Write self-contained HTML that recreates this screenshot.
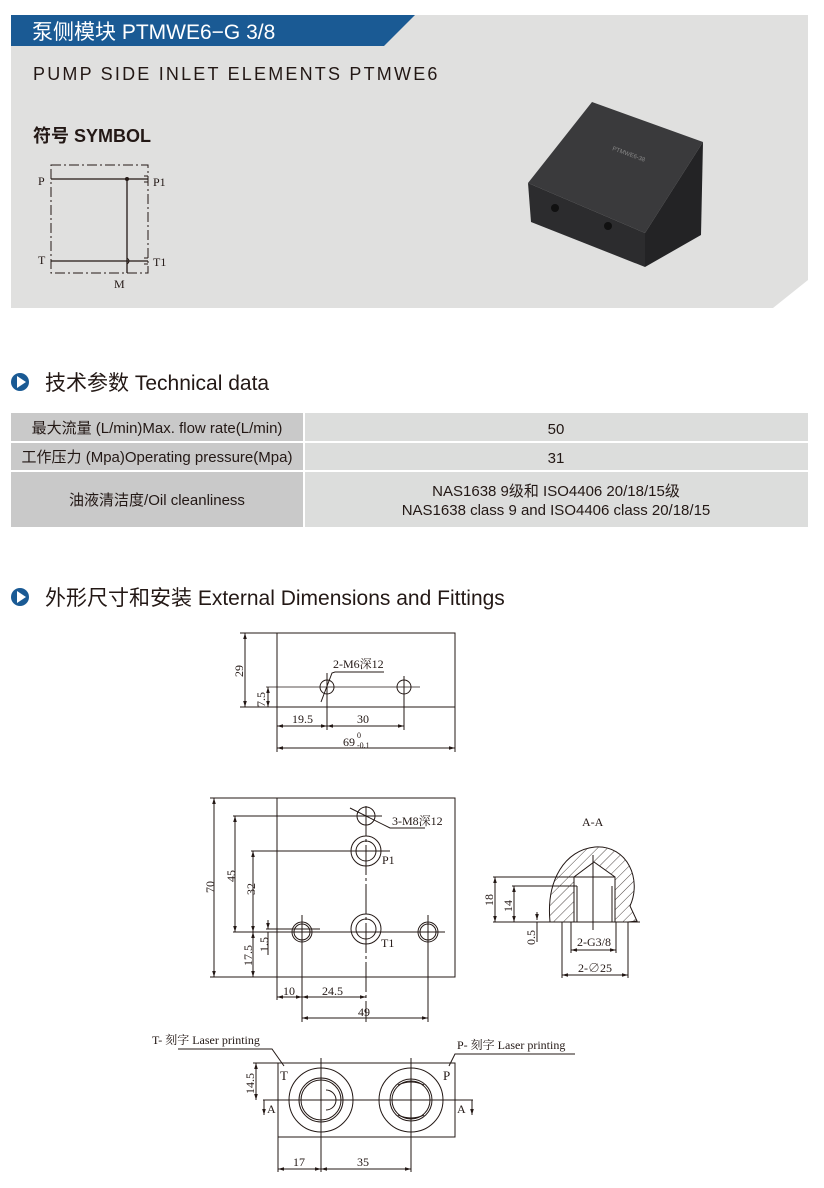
<!DOCTYPE html>
<html><head><meta charset="utf-8"><style>
body{margin:0;background:#fff;}
svg{display:block}
.s{font-family:"Liberation Sans","Noto Sans CJK SC",sans-serif}
.d{font-family:"Liberation Serif","Noto Serif CJK SC",serif;font-size:12px;fill:#231815}
</style></head><body>
<svg width="824" height="1188" viewBox="0 0 824 1188" xmlns="http://www.w3.org/2000/svg">
<defs>
<pattern id="h" width="7" height="7" patternUnits="userSpaceOnUse" patternTransform="rotate(45)"><line x1="0" y1="0" x2="0" y2="7" stroke="#231815" stroke-width="0.8"/></pattern>
<marker id="a" viewBox="0 0 10 10" refX="10" refY="5" markerWidth="6" markerHeight="6" orient="auto-start-reverse"><path d="M0,2 L10,5 L0,8z" fill="#231815"/></marker>
</defs>
<!-- top panel -->
<polygon points="11,15 808,15 808,280 773,308 11,308" fill="#e0e0df"/>
<polygon points="11,15 415,15 384,46 11,46" fill="#1a5a94"/>
<text x="32" y="39" class="s" font-size="21" fill="#fff">泵侧模块 PTMWE6−G 3/8</text>
<text x="33" y="80" class="s" font-size="18" fill="#231815" letter-spacing="2.2">PUMP SIDE INLET ELEMENTS PTMWE6</text>
<text x="33" y="142" class="s" font-size="18" font-weight="bold" fill="#231815">符号 SYMBOL</text>
<!-- symbol -->
<g stroke="#231815" fill="none" stroke-width="1">
<rect x="51" y="165" width="97" height="108" stroke-dasharray="10,3,2,3"/>
<line x1="51" y1="179" x2="148" y2="179" stroke-width="1.3"/>
<line x1="51" y1="261" x2="148" y2="261" stroke-width="1.3"/>
<line x1="127" y1="179" x2="127" y2="273" stroke-width="1.3"/>
<path d="M127,258 q4,3 0,6" />
<line x1="144" y1="176" x2="148" y2="176"/><line x1="144" y1="182" x2="148" y2="182"/>
<line x1="144" y1="258" x2="148" y2="258"/><line x1="144" y1="264" x2="148" y2="264"/>
</g>
<circle cx="127" cy="179" r="2" fill="#231815"/>
<g class="d" font-size="12"><text x="38" y="185">P</text><text x="153" y="186">P1</text><text x="38" y="264">T</text><text x="153" y="266">T1</text><text x="114" y="288">M</text></g>
<!-- photo -->
<polygon points="592,102 703,142 645,233 528,183" fill="#3a3a3c"/>
<polygon points="528,183 645,233 645,267 531,222" fill="#2c2c2e"/>
<polygon points="645,233 703,142 701,235 645,267" fill="#232325"/>
<circle cx="555" cy="208" r="4" fill="#111"/><circle cx="608" cy="226" r="4" fill="#111"/>
<text x="612" y="150" font-size="6" fill="#888" class="s" transform="rotate(20 612 150)">PTMWE6-38</text>
<!-- section 1 -->
<circle cx="20" cy="382" r="9" fill="#1a5a94"/><polygon points="17,376 17,388 26,382" fill="#fff"/>
<text x="45" y="390" class="s" font-size="21" fill="#231815">技术参数 Technical data</text>
<rect x="11" y="413" width="292" height="28" fill="#c9c9c9"/><rect x="305" y="413" width="503" height="28" fill="#dcdddc"/>
<rect x="11" y="443" width="292" height="27" fill="#c9c9c9"/><rect x="305" y="443" width="503" height="27" fill="#dcdddc"/>
<rect x="11" y="472" width="292" height="55" fill="#c9c9c9"/><rect x="305" y="472" width="503" height="55" fill="#dcdddc"/>
<g class="s" font-size="15" fill="#231815" text-anchor="middle">
<text x="157" y="433">最大流量 (L/min)Max. flow rate(L/min)</text>
<text x="157" y="462">工作压力 (Mpa)Operating pressure(Mpa)</text>
<text x="157" y="505">油液清洁度/Oil cleanliness</text>
<text x="556" y="434">50</text><text x="556" y="463">31</text>
<text x="556" y="496">NAS1638 9级和 ISO4406 20/18/15级</text>
<text x="556" y="515">NAS1638 class 9 and ISO4406 class 20/18/15</text>
</g>
<circle cx="20" cy="597" r="9" fill="#1a5a94"/><polygon points="17,591 17,603 26,597" fill="#fff"/>
<text x="45" y="605" class="s" font-size="21" fill="#231815">外形尺寸和安装 External Dimensions and Fittings</text>
<!-- drawing 1 -->
<g stroke="#231815" fill="none" stroke-width="1">
<rect x="277" y="633" width="178" height="74"/>
<line x1="240" y1="633" x2="277" y2="633"/><line x1="240" y1="707" x2="277" y2="707"/>
<line x1="245" y1="633" x2="245" y2="707" marker-start="url(#a)" marker-end="url(#a)"/>
<line x1="266" y1="687" x2="420" y2="687" stroke-width="0.7"/>
<line x1="268" y1="687" x2="268" y2="707" marker-start="url(#a)" marker-end="url(#a)"/>
<circle cx="327" cy="687" r="7"/><circle cx="404" cy="687" r="7"/>
<line x1="327" y1="673" x2="327" y2="730"/><line x1="404" y1="676" x2="404" y2="730"/>
<polyline points="321,702 332,673 335,672 384,672"/>
<line x1="277" y1="707" x2="277" y2="752"/><line x1="455" y1="707" x2="455" y2="752"/>
<line x1="277" y1="726" x2="327" y2="726" marker-start="url(#a)" marker-end="url(#a)"/>
<line x1="327" y1="726" x2="404" y2="726" marker-start="url(#a)" marker-end="url(#a)"/>
<line x1="277" y1="748" x2="455" y2="748" marker-start="url(#a)" marker-end="url(#a)"/>
</g>
<g class="d"><text x="243" y="677" transform="rotate(-90 243 677)">29</text><text x="265" y="707" transform="rotate(-90 265 707)">7.5</text>
<text x="333" y="668">2-M6深12</text><text x="292" y="723">19.5</text><text x="357" y="723">30</text>
<text x="343" y="746">69</text><text x="357" y="738" font-size="8">0</text><text x="357" y="748" font-size="8">-0.1</text></g>
<!-- drawing 2 -->
<g stroke="#231815" fill="none" stroke-width="1">
<rect x="277" y="798" width="178" height="179"/>
<line x1="366" y1="806" x2="366" y2="1022" stroke-dasharray="30,3,3,3"/>
<circle cx="366" cy="816" r="9"/>
<circle cx="366" cy="851" r="15"/><circle cx="366" cy="851" r="10"/>
<circle cx="366" cy="929" r="15"/><circle cx="366" cy="929" r="10"/>
<circle cx="302" cy="932" r="10"/><circle cx="302" cy="932" r="8"/>
<circle cx="428" cy="932" r="10"/><circle cx="428" cy="932" r="8"/>
<line x1="210" y1="798" x2="277" y2="798"/><line x1="210" y1="977" x2="277" y2="977"/>
<line x1="214" y1="798" x2="214" y2="977" marker-start="url(#a)" marker-end="url(#a)"/>
<line x1="233" y1="816" x2="382" y2="816"/><line x1="251" y1="851" x2="390" y2="851"/>
<line x1="233" y1="932" x2="445" y2="932"/><line x1="266" y1="929" x2="320" y2="929"/>
<line x1="235" y1="816" x2="235" y2="932" marker-start="url(#a)" marker-end="url(#a)"/>
<line x1="253" y1="851" x2="253" y2="932" marker-start="url(#a)" marker-end="url(#a)"/>
<line x1="253" y1="932" x2="253" y2="977" marker-start="url(#a)" marker-end="url(#a)"/>
<line x1="268" y1="920" x2="268" y2="929" marker-end="url(#a)"/><line x1="268" y1="932" x2="268" y2="955"/>
<line x1="277" y1="977" x2="277" y2="1000"/>
<line x1="302" y1="915" x2="302" y2="1022"/><line x1="428" y1="915" x2="428" y2="1022"/>
<line x1="277" y1="997" x2="302" y2="997" marker-start="url(#a)" marker-end="url(#a)"/>
<line x1="302" y1="997" x2="366" y2="997" marker-start="url(#a)" marker-end="url(#a)"/>
<line x1="302" y1="1018" x2="428" y2="1018" marker-start="url(#a)" marker-end="url(#a)"/>
<polyline points="350,808 390,828 425,828"/>
</g>
<g class="d"><text x="214" y="893" transform="rotate(-90 214 893)">70</text><text x="235" y="882" transform="rotate(-90 235 882)">45</text>
<text x="255" y="895" transform="rotate(-90 255 895)">32</text><text x="252" y="966" transform="rotate(-90 252 966)">17.5</text>
<text x="268" y="952" transform="rotate(-90 268 952)">1.5</text>
<text x="392" y="825">3-M8深12</text><text x="382" y="864">P1</text><text x="381" y="947">T1</text>
<text x="283" y="995">10</text><text x="322" y="995">24.5</text><text x="358" y="1016">49</text></g>
<!-- A-A -->
<path d="M550,922 C546,880 565,850 595,847 C628,845 642,880 630,906 L637,921 L628,922Z" fill="url(#h)" stroke="#231815" stroke-width="1"/>
<path d="M574,922 L574,877 L594,862 L615,877 L615,922Z" fill="#fff" stroke="#231815" stroke-width="1"/>
<g stroke="#231815" fill="none" stroke-width="1">
<line x1="577" y1="886" x2="577" y2="922"/><line x1="612" y1="886" x2="612" y2="922"/>
<line x1="574" y1="877" x2="615" y2="877"/>
<line x1="593" y1="855" x2="593" y2="930"/>
<line x1="493" y1="877" x2="574" y2="877"/><line x1="512" y1="886" x2="577" y2="886"/>
<line x1="493" y1="922" x2="640" y2="922"/>
<line x1="495" y1="877" x2="495" y2="922" marker-start="url(#a)" marker-end="url(#a)"/>
<line x1="514" y1="886" x2="514" y2="922" marker-start="url(#a)" marker-end="url(#a)"/>
<line x1="537" y1="912" x2="537" y2="920" marker-end="url(#a)"/><line x1="537" y1="922" x2="537" y2="942"/>
<line x1="562" y1="922" x2="562" y2="978"/><line x1="628" y1="922" x2="628" y2="978"/>
<line x1="571" y1="922" x2="571" y2="953"/><line x1="616" y1="922" x2="616" y2="953"/>
<line x1="571" y1="950" x2="616" y2="950" marker-start="url(#a)" marker-end="url(#a)"/>
<line x1="562" y1="975" x2="628" y2="975" marker-start="url(#a)" marker-end="url(#a)"/>
</g>
<g class="d"><text x="582" y="826">A-A</text><text x="493" y="906" transform="rotate(-90 493 906)">18</text>
<text x="512" y="912" transform="rotate(-90 512 912)">14</text><text x="535" y="945" transform="rotate(-90 535 945)">0.5</text>
<text x="577" y="946">2-G3/8</text><text x="578" y="972">2-∅25</text></g>
<!-- drawing 3 -->
<g stroke="#231815" fill="none" stroke-width="1">
<rect x="278" y="1063" width="177" height="74"/>
<circle cx="321" cy="1100" r="32"/><circle cx="321" cy="1100" r="22"/><circle cx="321" cy="1100" r="20"/>
<path d="M326,1090 A10,10 0 1 1 326,1110"/>
<circle cx="411" cy="1100" r="32"/><circle cx="411" cy="1100" r="21"/><circle cx="411" cy="1100" r="19"/>
<path d="M398,1085 Q411,1079 424,1085 M398,1115 Q411,1121 424,1115"/>
<line x1="263" y1="1100" x2="473" y2="1100"/>
<line x1="321" y1="1058" x2="321" y2="1172"/><line x1="411" y1="1058" x2="411" y2="1172"/>
<line x1="264" y1="1100" x2="264" y2="1115" marker-end="url(#a)"/>
<line x1="472" y1="1100" x2="472" y2="1115" marker-end="url(#a)"/>
<line x1="253" y1="1063" x2="278" y2="1063"/>
<line x1="256" y1="1063" x2="256" y2="1100" marker-start="url(#a)" marker-end="url(#a)"/>
<line x1="278" y1="1137" x2="278" y2="1172"/>
<line x1="278" y1="1169" x2="321" y2="1169" marker-start="url(#a)" marker-end="url(#a)"/>
<line x1="321" y1="1169" x2="411" y2="1169" marker-start="url(#a)" marker-end="url(#a)"/>
<polyline points="178,1049 272,1049 284,1066" />
<polyline points="575,1054 455,1054 449,1066"/>
</g>
<g class="d"><text x="152" y="1044">T- 刻字 Laser printing</text><text x="457" y="1049">P- 刻字 Laser printing</text>
<text x="280" y="1080" font-size="13">T</text><text x="443" y="1080" font-size="13">P</text>
<text x="267" y="1113">A</text><text x="457" y="1113">A</text>
<text x="254" y="1094" transform="rotate(-90 254 1094)">14.5</text>
<text x="293" y="1166">17</text><text x="357" y="1166">35</text></g>
</svg>
</body></html>
